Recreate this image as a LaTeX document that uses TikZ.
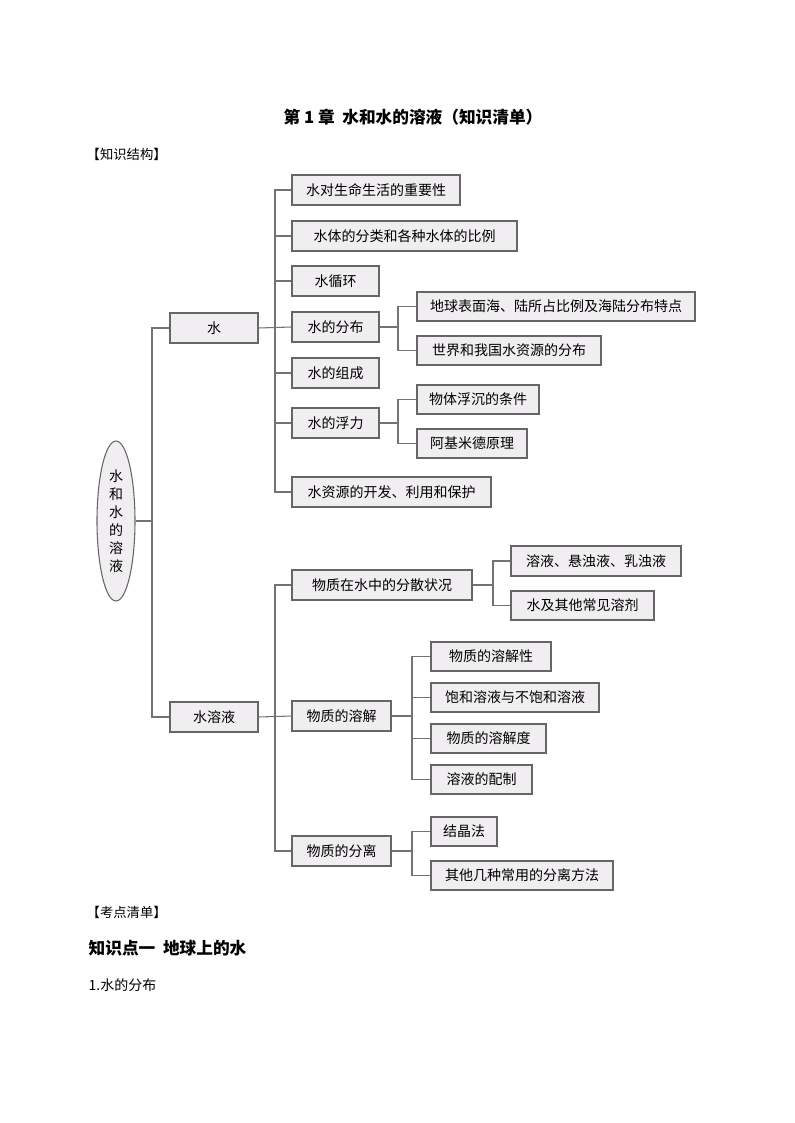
\documentclass[tikz,border=0pt]{standalone}
\usepackage{fontspec}
\setmainfont{Noto Sans CJK SC}
\usetikzlibrary{shapes.geometric}
\newcommand{\bx}[6]{\node[bx,minimum width={(#4-#2)*0.75pt},minimum height={(#5-#3)*0.75pt}] (#1) at ({(#2+#4)/2},{(#3+#5)/2}) {#6};}
\begin{document}
\begin{tikzpicture}[x=0.75pt,y=-0.75pt,
  bx/.style={draw=black!60,line width=0.8pt,fill=violet!12!gray!12,inner sep=0pt,font=\fontsize{10.5}{12}\selectfont},
  ln/.style={draw=black!55,line width=0.8pt}]
\useasboundingbox (0,0) rectangle (794,1123);
\node[font=\bfseries\fontsize{12.5}{14}\selectfont] (title) at (413,117) {第 1 章\ \ 水和水的溶液（知识清单）};
\node[anchor=west,font=\fontsize{10}{12}\selectfont] (k1) at (82,154) {【知识结构】};
\node[anchor=west,font=\fontsize{10}{12}\selectfont] (k2) at (82,912) {【考点清单】};
\node[anchor=west,font=\bfseries\fontsize{12.5}{14}\selectfont] (k3) at (84,948) {知识点一\ \ 地球上的水};
\node[anchor=west,font=\fontsize{10.5}{12}\selectfont] (k4) at (84,985) {1.水的分布};

\node[ellipse,draw=black!60,line width=0.8pt,fill=violet!12!gray!12,minimum width={38*0.75pt},minimum height={160*0.75pt},inner sep=0pt,align=center,font=\fontsize{10.5}{13.5}\selectfont] (root) at (116,521) {水\\和\\水\\的\\溶\\液};

\bx{w}{170}{313}{258}{343}{水}
\bx{sy}{170}{702}{258}{732}{水溶液}
\bx{a1}{292}{175}{460}{205}{水对生命生活的重要性}
\bx{a2}{292}{221}{517}{251}{水体的分类和各种水体的比例}
\bx{a3}{292}{266}{379}{296}{水循环}
\bx{a4}{292}{312}{379}{342}{水的分布}
\bx{a5}{292}{358}{379}{388}{水的组成}
\bx{a6}{292}{408}{379}{438}{水的浮力}
\bx{a7}{292}{477}{491}{507}{水资源的开发、利用和保护}
\bx{b1}{417}{292}{695}{321}{地球表面海、陆所占比例及海陆分布特点}
\bx{b2}{417}{336}{601}{365}{世界和我国水资源的分布}
\bx{c1}{417}{385}{539}{414}{物体浮沉的条件}
\bx{c2}{417}{429}{527}{458}{阿基米德原理}
\bx{d1}{292}{570}{472}{600}{物质在水中的分散状况}
\bx{d2}{292}{701}{391}{731}{物质的溶解}
\bx{d3}{292}{836}{391}{866}{物质的分离}
\bx{e1}{511}{546}{681}{576}{溶液、悬浊液、乳浊液}
\bx{e2}{511}{591}{654}{620}{水及其他常见溶剂}
\bx{f1}{431}{642}{551}{671}{物质的溶解性}
\bx{f2}{431}{683}{599}{712}{饱和溶液与不饱和溶液}
\bx{f3}{431}{724}{546}{753}{物质的溶解度}
\bx{f4}{431}{765}{532}{794}{溶液的配制}
\bx{g1}{431}{817}{497}{846}{结晶法}
\bx{g2}{431}{861}{613}{890}{其他几种常用的分离方法}

\coordinate (j0) at (152,521);
\coordinate (j1) at (275,328);
\coordinate (j2) at (398,327);
\coordinate (j3) at (398,423);
\coordinate (j4) at (275,717);
\coordinate (j5) at (493,585);
\coordinate (j6) at (412,716);
\coordinate (j7) at (412,851);
\draw[ln] (root.east) -- (j0);
\draw[ln] (w.west) -| (j0) |- (sy.west);
\draw[ln] (w.east) -- (a4.west);
\foreach \n in {a1,a2,a3,a5,a6,a7} \draw[ln] (\n.west) -| (j1);
\foreach \n in {b1,b2} \draw[ln] (a4.east) -- (j2) |- (\n.west);
\foreach \n in {c1,c2} \draw[ln] (a6.east) -- (j3) |- (\n.west);
\draw[ln] (sy.east) -- (d2.west);
\foreach \n in {d1,d3} \draw[ln] (\n.west) -| (j4);
\foreach \n in {e1,e2} \draw[ln] (d1.east) -- (j5) |- (\n.west);
\foreach \n in {f1,f2,f3,f4} \draw[ln] (d2.east) -- (j6) |- (\n.west);
\foreach \n in {g1,g2} \draw[ln] (d3.east) -- (j7) |- (\n.west);
\end{tikzpicture}
\end{document}
